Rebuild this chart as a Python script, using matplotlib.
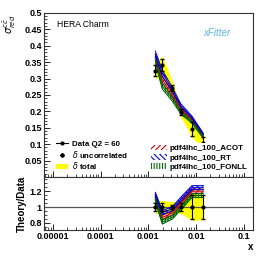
import matplotlib
matplotlib.use('Agg')
import matplotlib.pyplot as plt
from matplotlib.patches import Patch
from matplotlib.lines import Line2D
from matplotlib.ticker import FixedLocator, FuncFormatter, MultipleLocator, NullFormatter
import numpy as np

plt.rcParams['font.family'] = ['Liberation Sans', 'DejaVu Sans']
plt.rcParams['hatch.linewidth'] = 0.8

# data
x = [0.0014, 0.00196, 0.0032, 0.0048, 0.0082, 0.0141]
sigma = [0.324, 0.341, 0.271, 0.198, 0.146, 0.105]
err_unc = [0.05, 0.05, 0.03, 0.05, 0.15, 0.15]      # relative
err_tot = [0.08, 0.08, 0.07, 0.08, 0.17, 0.16]      # relative

ratio_rt = [1.16, 0.93, 0.98, 1.10, 1.245, 1.245]
ratio_acot = [1.125, 0.87, 0.925, 1.05, 1.20, 1.20]
ratio_fonll = [1.09, 0.81, 0.875, 0.99, 1.145, 1.145]
band_half = [0.025, 0.025, 0.025, 0.025, 0.025, 0.025]

theories = [
    ('pdf4lhc_100_ACOT', ratio_acot, '#cc0000', '//////'),
    ('pdf4lhc_100_RT', ratio_rt, '#0000cc', '\\\\\\\\\\\\'),
    ('pdf4lhc_100_FONLL', ratio_fonll, '#006600', '||||||'),
]

x = np.array(x)
sigma = np.array(sigma)
eu = np.array(err_unc)
et = np.array(err_tot)
bh = np.array(band_half)

fig = plt.figure(figsize=(2.66, 2.58), dpi=100)
ax = fig.add_axes([0.165, 0.314, 0.786, 0.636])
axr = fig.add_axes([0.165, 0.1085, 0.786, 0.2055], sharex=ax)

# upper panel
ax.fill_between(x, sigma * (1 - et), sigma * (1 + et), color='yellow', lw=0, zorder=1)
for name, r, c, h in theories:
    r = np.array(r)
    lo = sigma * (r - bh)
    hi = sigma * (r + bh)
    ax.fill_between(x, lo, hi, facecolor='none', edgecolor=c, hatch=h, lw=0, zorder=2)
    ax.plot(x, lo, color=c, lw=0.7, zorder=3)
    ax.plot(x, hi, color=c, lw=0.7, zorder=3)
    ax.plot(x, sigma * r, color=c, lw=0.7, zorder=3)
ax.errorbar(x, sigma, yerr=sigma * eu, fmt='o', color='black', ms=2,
            elinewidth=0.8, capsize=1.2, zorder=5)

ax.set_xscale('log')
ax.set_xlim(6.5e-6, 0.155)
ax.set_ylim(0, 0.5)
ax.yaxis.set_major_locator(MultipleLocator(0.05))
ax.yaxis.set_minor_locator(MultipleLocator(0.01))
ax.yaxis.set_major_formatter(FuncFormatter(lambda v, p: '' if abs(v) < 1e-9 else '%g' % round(v, 3)))
ax.tick_params(axis='x', which='both', labelbottom=False)
ax.text(0.065, 0.93, 'HERA Charm', transform=ax.transAxes, fontsize=6.2, va='center')
ax.text(0.83, 0.88, 'xFitter', transform=ax.transAxes, fontsize=7, style='italic',
        color='#5ab4e5', va='center', ha='center')
fig.text(0.035, 0.905, r'$\sigma_{red}^{c\bar{c}}$', rotation=90, fontsize=7, va='center', ha='center')

h1 = [Line2D([], [], color='black', marker='o', ms=2, lw=0.8),
      Line2D([], [], color='black', marker='D', ms=2, lw=0),
      Patch(facecolor='yellow', edgecolor='none')]
leg1 = ax.legend(h1, ['Data Q2 = 60', r'$\delta$ uncorrelated', r'$\delta$ total'],
                 loc='lower left', bbox_to_anchor=(0.03, 0.0), frameon=False,
                 prop={'size': 5.7, 'weight': 'bold'}, handlelength=1.6, handletextpad=0.4,
                 labelspacing=0.1, borderpad=0.2)
ax.add_artist(leg1)
h2 = [Patch(facecolor='white', edgecolor=c, hatch=h, lw=0) for _, _, c, h in theories]
leg2 = ax.legend(h2, [t[0] for t in theories], loc='lower right', bbox_to_anchor=(1.0, 0.0),
                 frameon=True, facecolor='white', edgecolor='none', framealpha=1,
                 prop={'size': 5.8, 'weight': 'bold'}, handlelength=2.0, handletextpad=0.2,
                 labelspacing=0.2, borderpad=0.25, fancybox=False)
leg2.set_zorder(10)

# ratio panel
axr.fill_between(x, 1 - et, 1 + et, color='yellow', lw=0, zorder=1)
axr.axhline(1, color='#555555', lw=0.9, zorder=2)
for name, r, c, h in theories:
    r = np.array(r)
    axr.fill_between(x, r - bh, r + bh, facecolor='none', edgecolor=c, hatch=h, lw=0, zorder=3)
    axr.plot(x, r - bh, color=c, lw=0.8, zorder=4)
    axr.plot(x, r + bh, color=c, lw=0.8, zorder=4)
    axr.plot(x, r, color=c, lw=0.8, zorder=4)
axr.errorbar(x, np.ones_like(x), yerr=eu, fmt='o', color='black', ms=2,
             elinewidth=0.8, capsize=1.2, zorder=5)
axr.set_ylim(0.71, 1.38)
axr.yaxis.set_major_locator(FixedLocator([0.8, 1.0, 1.2]))
axr.yaxis.set_minor_locator(MultipleLocator(0.05))
axr.yaxis.set_major_formatter(FuncFormatter(lambda v, p: '%g' % round(v, 2)))
axr.xaxis.set_major_locator(FixedLocator([1e-5, 1e-4, 1e-3, 1e-2, 1e-1]))
axr.xaxis.set_major_formatter(FuncFormatter(lambda v, p: {1e-5: '0.00001', 1e-4: '0.0001', 1e-3: '0.001', 1e-2: '0.01', 1e-1: '0.1'}.get(v, '')))
axr.xaxis.set_minor_formatter(NullFormatter())
axr.set_ylabel('Theory/Data', fontsize=7, fontweight='bold', labelpad=2)
axr.set_xlabel('x', fontsize=7, fontweight='bold', loc='right', labelpad=1)

for a in (ax, axr):
    a.tick_params(which='both', direction='in', top=False, right=False,
                  labelsize=6.5, pad=1.5)
    a.tick_params(which='major', length=4, width=0.6)
    a.tick_params(which='minor', length=2, width=0.5)
    for lab in a.get_xticklabels() + a.get_yticklabels():
        lab.set_fontweight('bold')
    for s in a.spines.values():
        s.set_linewidth(0.8)
        s.set_color('#333333')

fig.savefig('out.png', dpi=100)
